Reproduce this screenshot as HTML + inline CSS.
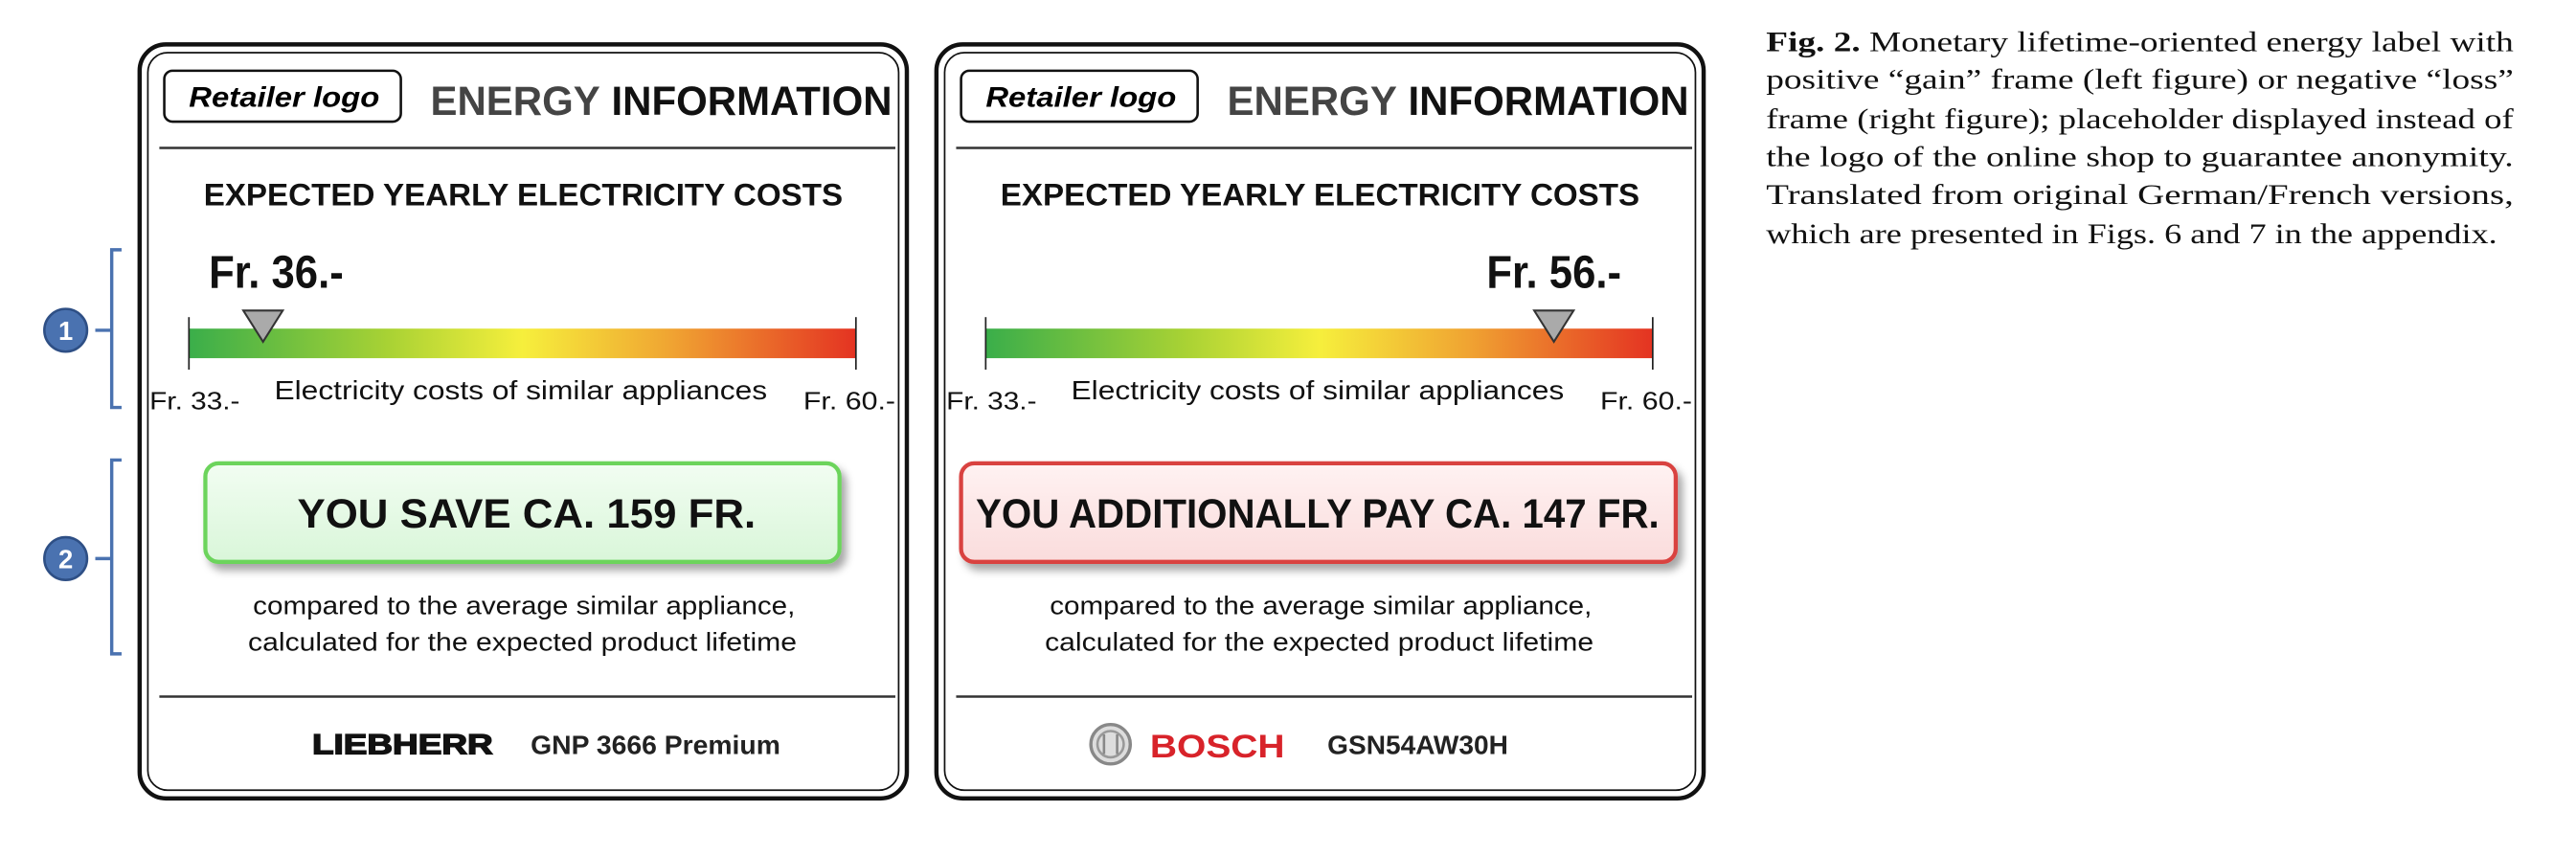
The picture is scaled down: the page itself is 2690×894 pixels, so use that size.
<!DOCTYPE html>
<html><head><meta charset="utf-8">
<style>
html,body{margin:0;padding:0;background:#fff;}
svg{display:block;}
.sans{font-family:"Liberation Sans",sans-serif;}
.serif{font-family:"Liberation Serif",serif;}
</style></head>
<body>
<svg id="fig" width="2690" height="894" viewBox="0 0 1568 521" xmlns="http://www.w3.org/2000/svg">
<defs>
<linearGradient id="grad" x1="0" x2="1" y1="0" y2="0">
<stop offset="0" stop-color="#3aae4a"/>
<stop offset="0.3" stop-color="#a9d234"/>
<stop offset="0.5" stop-color="#f6ef3c"/>
<stop offset="0.72" stop-color="#f0a532"/>
<stop offset="1" stop-color="#e43322"/>
</linearGradient>
<linearGradient id="gbox" x1="0" x2="0" y1="0" y2="1"><stop offset="0" stop-color="#f2fdf2"/><stop offset="1" stop-color="#d9f6d9"/></linearGradient>
<linearGradient id="rbox" x1="0" x2="0" y1="0" y2="1"><stop offset="0" stop-color="#fff2f2"/><stop offset="1" stop-color="#fadcdc"/></linearGradient>
<filter id="sh" x="-5%" y="-20%" width="112%" height="150%"><feDropShadow dx="3" dy="4" stdDeviation="2.5" flood-color="#000" flood-opacity="0.35"/></filter>
</defs>

<g fill="none" stroke="#4a72b0" stroke-width="2">
<path d="M74 152 H68 V248 H74 M68 201 H58"/>
</g>
<g>
<circle cx="40" cy="201" r="13" fill="#4a72b0" stroke="#2e4f85" stroke-width="1.5"/>
<text x="40" y="207" text-anchor="middle" class="sans" font-size="16" font-weight="bold" fill="#fff">1</text>
</g>
<g fill="none" stroke="#4a72b0" stroke-width="2">
<path d="M74 280 H68 V398 H74 M68 340 H58"/>
</g>
<g>
<circle cx="40" cy="340" r="13" fill="#4a72b0" stroke="#2e4f85" stroke-width="1.5"/>
<text x="40" y="346" text-anchor="middle" class="sans" font-size="16" font-weight="bold" fill="#fff">2</text>
</g>

<g id="labelL" class="sans">
<rect x="85" y="27" width="467" height="459" rx="16" fill="#fff" stroke="#111" stroke-width="2.6"/>
<rect x="90" y="32" width="457" height="449" rx="12" fill="none" stroke="#111" stroke-width="1"/>
<rect x="100" y="43" width="144" height="31" rx="5" fill="#fff" stroke="#111" stroke-width="1.5"/>
<text x="115" y="65" font-size="17" font-style="italic" font-weight="bold" textLength="116" lengthAdjust="spacingAndGlyphs">Retailer logo</text>
<text x="262" y="70" font-size="25" font-weight="bold" textLength="281" lengthAdjust="spacingAndGlyphs"><tspan fill="#444">ENERGY</tspan> <tspan fill="#111">INFORMATION</tspan></text>
<line x1="97" y1="90" x2="545" y2="90" stroke="#333" stroke-width="1.5"/>
<text x="124" y="125" font-size="19" font-weight="bold" fill="#111" textLength="389" lengthAdjust="spacingAndGlyphs">EXPECTED YEARLY ELECTRICITY COSTS</text>
<rect x="115" y="200" width="406" height="18" fill="url(#grad)"/>
<line x1="115" y1="193" x2="115" y2="225" stroke="#222" stroke-width="1"/>
<line x1="521" y1="193" x2="521" y2="225" stroke="#222" stroke-width="1"/>
<text x="91" y="249" font-size="15" fill="#111" textLength="55" lengthAdjust="spacingAndGlyphs">Fr. 33.-</text>
<text x="167" y="243" font-size="16" fill="#111" textLength="300" lengthAdjust="spacingAndGlyphs">Electricity costs of similar appliances</text>
<text x="489" y="249" font-size="15" fill="#111" textLength="56" lengthAdjust="spacingAndGlyphs">Fr. 60.-</text>
<rect x="125" y="282" width="386" height="60" rx="8" fill="url(#gbox)" stroke="#6cd45c" stroke-width="2.5" filter="url(#sh)"/>
<text x="181" y="321" font-size="25" font-weight="bold" fill="#111" textLength="279" lengthAdjust="spacingAndGlyphs">YOU SAVE CA. 159 FR.</text>
<text x="154" y="374" font-size="15.5" fill="#111" textLength="330" lengthAdjust="spacingAndGlyphs">compared to the average similar appliance,</text>
<text x="151" y="396" font-size="15.5" fill="#111" textLength="334" lengthAdjust="spacingAndGlyphs">calculated for the expected product lifetime</text>
<line x1="97" y1="424" x2="545" y2="424" stroke="#333" stroke-width="1.5"/>
<text x="190" y="459" font-size="17" font-weight="bold" fill="#111" stroke="#111" stroke-width="0.8" textLength="110" lengthAdjust="spacingAndGlyphs">LIEBHERR</text>
<text x="323" y="459" font-size="16" font-weight="bold" fill="#222" textLength="152" lengthAdjust="spacingAndGlyphs">GNP 3666 Premium</text>
<g id="markerL"></g>
</g>

<g id="labelR" class="sans">
<rect x="570" y="27" width="467" height="459" rx="16" fill="#fff" stroke="#111" stroke-width="2.6"/>
<rect x="575" y="32" width="457" height="449" rx="12" fill="none" stroke="#111" stroke-width="1"/>
<rect x="585" y="43" width="144" height="31" rx="5" fill="#fff" stroke="#111" stroke-width="1.5"/>
<text x="600" y="65" font-size="17" font-style="italic" font-weight="bold" textLength="116" lengthAdjust="spacingAndGlyphs">Retailer logo</text>
<text x="747" y="70" font-size="25" font-weight="bold" textLength="281" lengthAdjust="spacingAndGlyphs"><tspan fill="#444">ENERGY</tspan> <tspan fill="#111">INFORMATION</tspan></text>
<line x1="582" y1="90" x2="1030" y2="90" stroke="#333" stroke-width="1.5"/>
<text x="609" y="125" font-size="19" font-weight="bold" fill="#111" textLength="389" lengthAdjust="spacingAndGlyphs">EXPECTED YEARLY ELECTRICITY COSTS</text>
<rect x="600" y="200" width="406" height="18" fill="url(#grad)"/>
<line x1="600" y1="193" x2="600" y2="225" stroke="#222" stroke-width="1"/>
<line x1="1006" y1="193" x2="1006" y2="225" stroke="#222" stroke-width="1"/>
<text x="576" y="249" font-size="15" fill="#111" textLength="55" lengthAdjust="spacingAndGlyphs">Fr. 33.-</text>
<text x="652" y="243" font-size="16" fill="#111" textLength="300" lengthAdjust="spacingAndGlyphs">Electricity costs of similar appliances</text>
<text x="974" y="249" font-size="15" fill="#111" textLength="56" lengthAdjust="spacingAndGlyphs">Fr. 60.-</text>
<rect x="585" y="282" width="435" height="60" rx="8" fill="url(#rbox)" stroke="#d9433f" stroke-width="2.5" filter="url(#sh)"/>
<text x="594" y="321" font-size="25" font-weight="bold" fill="#111" textLength="416" lengthAdjust="spacingAndGlyphs">YOU ADDITIONALLY PAY CA. 147 FR.</text>
<text x="639" y="374" font-size="15.5" fill="#111" textLength="330" lengthAdjust="spacingAndGlyphs">compared to the average similar appliance,</text>
<text x="636" y="396" font-size="15.5" fill="#111" textLength="334" lengthAdjust="spacingAndGlyphs">calculated for the expected product lifetime</text>
<line x1="582" y1="424" x2="1030" y2="424" stroke="#333" stroke-width="1.5"/>
<g>
<circle cx="676" cy="453" r="12" fill="#ddd" stroke="#888" stroke-width="2"/>
<circle cx="676" cy="453" r="8" fill="none" stroke="#999" stroke-width="1.5"/>
<line x1="672" y1="447" x2="672" y2="459" stroke="#888" stroke-width="1.5"/>
<line x1="680" y1="447" x2="680" y2="459" stroke="#888" stroke-width="1.5"/>
<text x="700" y="461" font-size="20" font-weight="bold" fill="#d8232a" textLength="82" lengthAdjust="spacingAndGlyphs">BOSCH</text>
</g>
<text x="808" y="459" font-size="16" font-weight="bold" fill="#222" textLength="110" lengthAdjust="spacingAndGlyphs">GSN54AW30H</text>
<g id="markerR"></g>
</g>

<g class="serif" font-size="17" fill="#111">
<text x="1075" y="31" textLength="455" lengthAdjust="spacingAndGlyphs"><tspan font-weight="bold">Fig. 2.</tspan>  Monetary lifetime-oriented energy label with</text>
<text x="1075" y="54" textLength="455" lengthAdjust="spacingAndGlyphs">positive “gain” frame (left figure) or negative “loss”</text>
<text x="1075" y="78" textLength="455" lengthAdjust="spacingAndGlyphs">frame (right figure); placeholder displayed instead of</text>
<text x="1075" y="101" textLength="455" lengthAdjust="spacingAndGlyphs">the logo of the online shop to guarantee anonymity.</text>
<text x="1075" y="124" textLength="455" lengthAdjust="spacingAndGlyphs">Translated from original German/French versions,</text>
<text x="1075" y="148" textLength="445" lengthAdjust="spacingAndGlyphs">which are presented in Figs. 6 and 7 in the appendix.</text>
</g>
</svg>
<script>
const scaleMin = 33;
const scaleMax = 60;
const costValues = [36, 56];
const costLabels = ["Fr. 36.-", "Fr. 56.-"];
const NS = "http://www.w3.org/2000/svg";
const barX = [115, 600];
const barW = 406;
function xScale(v, i){ return barX[i] + (v - scaleMin) / (scaleMax - scaleMin) * barW; }
["markerL","markerR"].forEach(function(id, i){
  const g = document.getElementById(id);
  const x = xScale(costValues[i], i);
  const tri = document.createElementNS(NS, "path");
  tri.setAttribute("d", "M" + (x-12) + " 189 L" + (x+12) + " 189 L" + x + " 208 Z");
  tri.setAttribute("fill", "#aaa");
  tri.setAttribute("stroke", "#333");
  tri.setAttribute("stroke-width", "1.2");
  
  
  g.appendChild(tri);
  const t = document.createElementNS(NS, "text");
  t.setAttribute("x", i === 0 ? x - 33 : x - 41);
  t.setAttribute("y", "175");
  t.setAttribute("font-size", "28");
  t.setAttribute("font-weight", "bold");
  t.setAttribute("fill", "#111");
  t.setAttribute("textLength", "82");
  t.setAttribute("lengthAdjust", "spacingAndGlyphs");
  t.textContent = costLabels[i];
  
  
  g.appendChild(t);
});
</script>
</body></html>
